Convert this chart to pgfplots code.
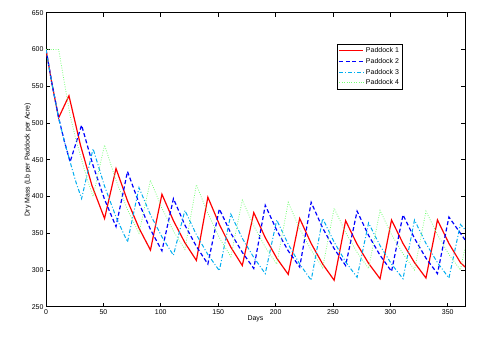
\documentclass[border=0pt]{standalone}
\usepackage{fontspec}
\setmainfont{Liberation Sans}
\usepackage{pgfplots}
\pgfplotsset{compat=1.18}
\begin{document}
\fontsize{7}{8}\selectfont
\begin{tikzpicture}
\begin{axis}[
  scale only axis, width=419bp, height=294bp,
  xmin=0, xmax=365, ymin=250, ymax=650,
  xtick={0,50,...,350}, ytick={250,300,...,650},
  tick align=inside, major tick length=4bp,
  axis line style={line width=0.8pt},
  every tick/.style={black, line width=0.6pt},
  tick label style={font=\fontsize{7}{8}\selectfont},
  /pgf/number format/assume math mode=true,
  /pgf/number format/1000 sep={},
  xlabel={Days}, ylabel={Dry Mass (Lb per Paddock per Acre)},
  label style={font=\fontsize{7}{8}\selectfont},
  xlabel style={yshift=3bp},
  ylabel style={yshift=-4bp},
  legend style={at={(0.6945,0.8935)}, anchor=north west, draw=black, line width=0.6pt,
    font=\fontsize{7}{8}\selectfont, inner sep=1.5pt, row sep=0.5pt},
  legend cell align=left,
  legend image code/.code={\draw[#1] (0bp,0bp) -- (24bp,0bp);},
]
\addplot[red, line width=1.2pt] coordinates {
(0,600) (5,555) (11,507) (20,537) (30,470) (40,415) (51,370) (61,438) (71,394) (81,357) (91,327) (101,403) (111,367) (121,337) (131,313) (141,399) (151,362) (161,331) (171,306) (181,378) (191,344) (201,316) (211,294) (221,370) (231,336) (241,308) (251,286) (261,367) (271,335) (281,309) (291,288) (301,368) (311,336) (321,310) (331,289) (341,368) (351,336) (361,310) (365,304)};
\addlegendentry{Paddock 1}
\addplot[blue, line width=1.2pt, dash pattern=on 4pt off 2.5pt] coordinates {
(0,600) (5,555) (11,507) (16,475) (21,447) (31,497) (41,442) (51,396) (61,359) (71,434) (81,391) (91,355) (101,326) (111,397) (121,361) (131,332) (141,308) (151,383) (161,350) (171,324) (181,302) (191,388) (201,354) (211,326) (221,304) (231,392) (241,357) (251,329) (261,306) (271,380) (281,347) (291,320) (301,298) (311,375) (321,343) (331,316) (341,295) (351,372) (361,350) (365,341)};
\addlegendentry{Paddock 2}
\addplot[cyan, line width=1.0pt, dash pattern=on 4pt off 2pt on 1pt off 2pt] coordinates {
(0,600) (5,555) (11,507) (16,475) (21,447) (26,420) (31,397) (41,465) (51,414) (61,372) (71,338) (81,412) (91,375) (101,345) (111,320) (121,381) (131,348) (141,321) (151,299) (161,376) (171,343) (181,317) (191,295) (201,368) (211,335) (221,308) (231,286) (241,370) (251,338) (261,311) (271,290) (281,364) (291,333) (301,308) (311,288) (321,368) (331,336) (341,310) (351,289) (361,362) (365,355)};
\addlegendentry{Paddock 3}
\addplot[green!55!white, line width=0.8pt, dash pattern=on 0.8pt off 1.6pt] coordinates {
(0,600) (11,600) (16,555) (21,510) (26,478) (31,450) (36,423) (41,400) (51,470) (61,422) (71,382) (81,350) (91,422) (101,384) (111,353) (121,328) (131,416) (141,377) (151,344) (161,318) (171,395) (181,360) (191,331) (201,308) (211,392) (221,356) (231,327) (241,303) (251,384) (261,351) (271,324) (281,302) (291,381) (301,348) (311,322) (321,300) (331,380) (341,348) (351,321) (361,300) (365,330)};
\addlegendentry{Paddock 4}
\end{axis}
\pgfresetboundingbox
\path ([shift={(-46bp,-41.3bp)}]current axis.south west) rectangle ([shift={(26bp,12.7bp)}]current axis.north east);
\end{tikzpicture}
\end{document}
